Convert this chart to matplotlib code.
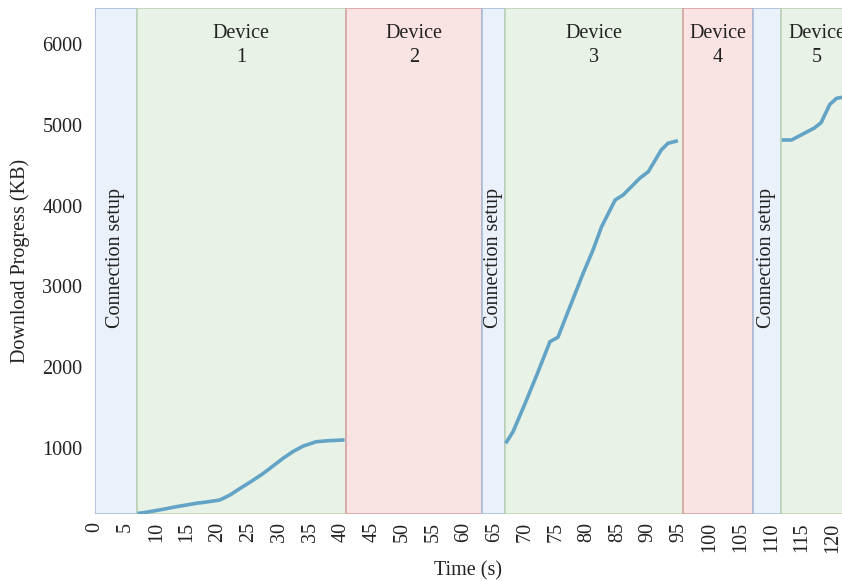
import matplotlib
matplotlib.use("Agg")
import matplotlib.pyplot as plt
import matplotlib.transforms as mtransforms

plt.rcParams['font.family'] = ['Liberation Serif', 'DejaVu Serif']

# phases: (start, end, kind, label)
phase_start = [0, 6.8, 40.8, 62.9, 66.7, 95.6, 107.0, 111.5]
phase_end = [6.8, 40.8, 62.9, 66.7, 95.6, 107.0, 111.5, 123.3]
phase_kind = ["setup", "ok", "fail", "setup", "ok", "fail", "setup", "ok"]
phase_label = ["Connection setup", "Device\n1", "Device\n2", "Connection setup",
               "Device\n3", "Device\n4", "Connection setup", "Device\n5"]

# download progress per device (s, KB)
t_dev1 = [6.9, 8, 11, 13, 16.5, 18, 20.3, 22, 23.6, 25.5, 27.4, 29, 30.6, 32.3, 33.9, 36, 38, 40.6]
kb_dev1 = [190, 200, 240, 270, 316, 330, 356, 420, 500, 590, 687, 780, 873, 960, 1025, 1078, 1090, 1100]
t_dev3 = [66.8, 68.0, 70, 72, 74.0, 75.3, 77, 79.4, 81, 82.4, 84.6, 85.9, 88.6, 90.0, 92.1, 93.2, 94.8]
kb_dev3 = [1058, 1202, 1560, 1930, 2316, 2370, 2700, 3162, 3450, 3739, 4069, 4131, 4338, 4420, 4688, 4771, 4803]
t_dev5 = [111.7, 113.3, 115, 117, 118.1, 119.5, 120.6, 121.5]
kb_dev5 = [4812, 4812, 4880, 4960, 5026, 5250, 5327, 5340]

xticks = list(range(0, 125, 5))
yticks = [1000, 2000, 3000, 4000, 5000, 6000]

face = {"setup": "#eaf1fa", "ok": "#e8f2e7", "fail": "#fae4e3"}
edge = {"setup": "#a9bcd8", "ok": "#bcd3b4", "fail": "#d8a4a2"}
FS = 14.5

fig = plt.figure(figsize=(8.42, 5.81), dpi=100)
ax = fig.add_axes([0.1128, 0.1153, 0.8872, 0.8709])
trans = mtransforms.blended_transform_factory(ax.transData, ax.transAxes)

for s, e, k, lab in zip(phase_start, phase_end, phase_kind, phase_label):
    ax.axvspan(s, e, facecolor=face[k], edgecolor=edge[k], lw=1.2, zorder=0)
    c = (s + e) / 2
    if k == "setup":
        ax.text(c, 0.505, lab, rotation=90, ha="center", va="center", fontsize=FS,
                color="#222222", transform=trans, zorder=3)
    else:
        # Device 5 runs past the right edge, as in the original figure crop
        ax.text(c, 0.968, lab, ha="center", va="top", fontsize=FS, color="#222222",
                transform=trans, linespacing=1.35, zorder=3)

for tt, kk in [(t_dev1, kb_dev1), (t_dev3, kb_dev3), (t_dev5, kb_dev5)]:
    ax.plot(tt, kk, color="#62a3c6", lw=2.6, solid_capstyle="butt", zorder=2)

ax.set_xlim(0, 121.5)
ax.set_ylim(183, 6445)
ax.set_xticks(xticks)
ax.set_xticklabels([str(x) for x in xticks], rotation=90)
ax.set_yticks(yticks)
ax.tick_params(length=0, labelsize=FS, colors="#222222")
ax.tick_params(axis="y", pad=9)
ax.tick_params(axis="x", pad=6)
for sp in ax.spines.values():
    sp.set_visible(False)
ax.set_xlabel("Time (s)", fontsize=FS, color="#222222", labelpad=6)
ax.set_ylabel("Download Progress (KB)", fontsize=FS, color="#222222", labelpad=9)

fig.savefig("out.png", dpi=100, facecolor="white")
